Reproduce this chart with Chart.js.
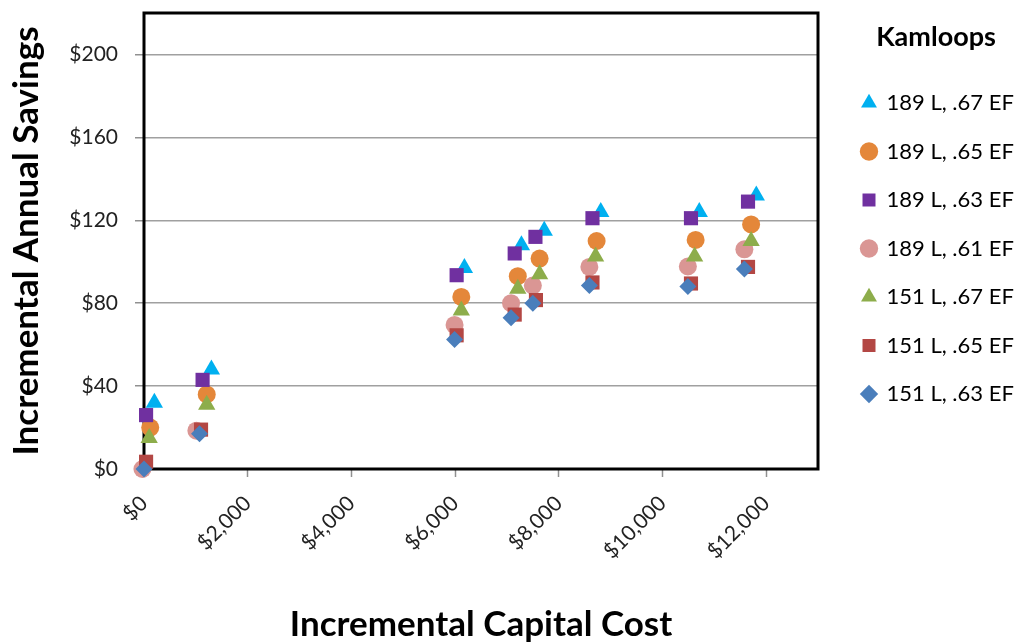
<!DOCTYPE html>
<html lang="en">
<head>
    <meta charset="UTF-8">
    <title>Kamloops - Incremental Annual Savings</title>
    <script src="https://cdn.jsdelivr.net/npm/chart.js"></script>
    <style>
        html, body { margin: 0; padding: 0; background: #ffffff; }
        canvas { display: block; }
    </style>
</head>
<body>
    <canvas id="kamloopsChart" width="1018" height="643"></canvas>

    <script>
        // legend labels, in legend order
        const seriesNames = ['189 L, .67 EF', '189 L, .65 EF', '189 L, .63 EF', '189 L, .61 EF',
                             '151 L, .67 EF', '151 L, .65 EF', '151 L, .63 EF'];

        // incremental capital cost ($) and annual savings ($) per series
        const cost189_67 = [200, 1300, 6180, 7280, 7720, 8810, 10710, 11810];
        const save189_67 = [32, 48, 97, 108, 115, 124, 124, 132];
        const cost189_65 = [120, 1210, 6120, 7210, 7630, 8730, 10640, 11710];
        const save189_65 = [20, 36, 83, 93, 101.5, 110, 110.5, 118];
        const cost189_63 = [40, 1130, 6030, 7150, 7550, 8650, 10550, 11650];
        const save189_63 = [26, 43, 93.5, 104, 112, 121, 121, 129];
        const cost189_61 = [-30, 1010, 5990, 7080, 7500, 8590, 10490, 11580];
        const save189_61 = [0, 18.5, 69.5, 80, 88.5, 97.5, 97.7, 106];
        const cost151_67 = [100, 1210, 6120, 7210, 7630, 8710, 10620, 11710];
        const save151_67 = [15, 31, 76.5, 87, 94, 102.5, 102.5, 110];
        const cost151_65 = [40, 1100, 6030, 7150, 7560, 8650, 10550, 11650];
        const save151_65 = [3.5, 19, 64.5, 74.5, 81.5, 90, 89.5, 97.5];
        const cost151_63 = [0, 1070, 5990, 7080, 7500, 8590, 10490, 11580];
        const save151_63 = [0, 17, 62.5, 73, 80, 88.5, 88, 96.5];

        // axis ticks
        const costTicks = [0, 2000, 4000, 6000, 8000, 10000, 12000];
        const saveTicks = [0, 40, 80, 120, 160, 200];

        const costLists = [cost189_67, cost189_65, cost189_63, cost189_61, cost151_67, cost151_65, cost151_63];
        const saveLists = [save189_67, save189_65, save189_63, save189_61, save151_67, save151_65, save151_63];

        const colors = ['#00B0F0', '#E4873A', '#7030A0', '#DA9694', '#8DAD4B', '#B34744', '#4A7EBB'];
        const shapes = ['triangle', 'circle', 'rect', 'circle', 'triangle', 'rect', 'rectRot'];
        const radii = [10, 9, 10, 9, 10, 10, 8.5];

        const datasets = seriesNames.map(function(name, i) {
            return {
                label: name,
                data: costLists[i].map(function(c, j) { return { x: c, y: saveLists[i][j] }; }),
                pointStyle: shapes[i],
                pointRadius: radii[i],
                pointHoverRadius: radii[i],
                backgroundColor: colors[i],
                borderColor: colors[i],
                pointBorderWidth: 0,
                order: seriesNames.length - 1 - i,   // later series sit on top, like Excel
                clip: false
            };
        });

        // fixed legend width, nudged right a little
        const legendBox = {
            id: 'legendBox',
            afterInit(chart) {
                const lg = chart.legend;
                const fit = lg.fit;
                lg.fit = function() { fit.call(this); this.width = 200; };
            },
            afterLayout(chart) {
                chart.legend.left += 18;
                chart.legend.right += 18;
            }
        };

        // black frame around the plot area
        const plotFrame = {
            id: 'plotFrame',
            beforeDatasetsDraw(chart) {
                const a = chart.chartArea;
                const ctx = chart.ctx;
                ctx.save();
                ctx.strokeStyle = '#000000';
                ctx.lineWidth = 3;
                ctx.strokeRect(a.left, a.top, a.right - a.left, a.bottom - a.top);
                ctx.restore();
            }
        };

        Chart.defaults.font.family = 'Lato, "Open Sans", sans-serif';
        Chart.defaults.color = '#222222';

        const money = function(v) { return '$' + Number(v).toLocaleString('en-US'); };

        new Chart(document.getElementById('kamloopsChart'), {
            type: 'scatter',
            data: { datasets: datasets },
            plugins: [legendBox, plotFrame],
            options: {
                responsive: false,
                animation: false,
                events: [],
                layout: { padding: { top: 13, left: 0, right: 0, bottom: 0 } },
                plugins: {
                    tooltip: { enabled: false },
                    legend: {
                        position: 'right',
                        align: 'start',
                        title: {
                            display: true,
                            text: 'Kamloops',
                            color: '#000000',
                            font: { size: 27, weight: 'bold' },
                            padding: { top: 10.8, bottom: 9.3 }
                        },
                        labels: {
                            usePointStyle: true,
                            boxWidth: 13,
                            boxHeight: 13,
                            padding: 26.5,
                            color: '#000000',
                            font: { size: 22 },
                            sort: function(a, b) { return a.datasetIndex - b.datasetIndex; }
                        }
                    }
                },
                scales: {
                    x: {
                        type: 'linear',
                        position: 'bottom',
                        min: 0,
                        max: 13000,
                        afterBuildTicks: function(scale) {
                            scale.ticks = costTicks.map(function(v) { return { value: v }; });
                        },
                        afterFit: function(scale) { scale.height = 174; },
                        border: { display: false },
                        grid: { drawOnChartArea: false, drawTicks: true, tickLength: 8, tickColor: '#909090', tickWidth: 1.5 },
                        ticks: {
                            minRotation: 45,
                            maxRotation: 45,
                            autoSkip: false,
                            padding: 14,
                            font: { size: 21 },
                            callback: money
                        },
                        title: {
                            display: true,
                            text: 'Incremental Capital Cost',
                            color: '#000000',
                            font: { size: 35, weight: 'bold' },
                            padding: { top: 0, bottom: -3 }
                        }
                    },
                    y: {
                        min: 0,
                        max: 220,
                        afterBuildTicks: function(scale) {
                            scale.ticks = saveTicks.map(function(v) { return { value: v }; });
                        },
                        afterFit: function(scale) {
                            scale.width = 144;
                            scale.paddingTop = 0;
                            scale.paddingBottom = 0;
                        },
                        border: { display: false },
                        grid: { color: '#a0a0a0', lineWidth: 1.5, tickLength: 9, tickColor: '#909090' },
                        ticks: {
                            padding: 17,
                            font: { size: 21 },
                            callback: money
                        },
                        title: {
                            display: true,
                            text: 'Incremental Annual Savings',
                            color: '#000000',
                            font: { size: 35, weight: 'bold' },
                            padding: { top: 6, bottom: 0 }
                        }
                    }
                }
            }
        });
    </script>
</body>
</html>
